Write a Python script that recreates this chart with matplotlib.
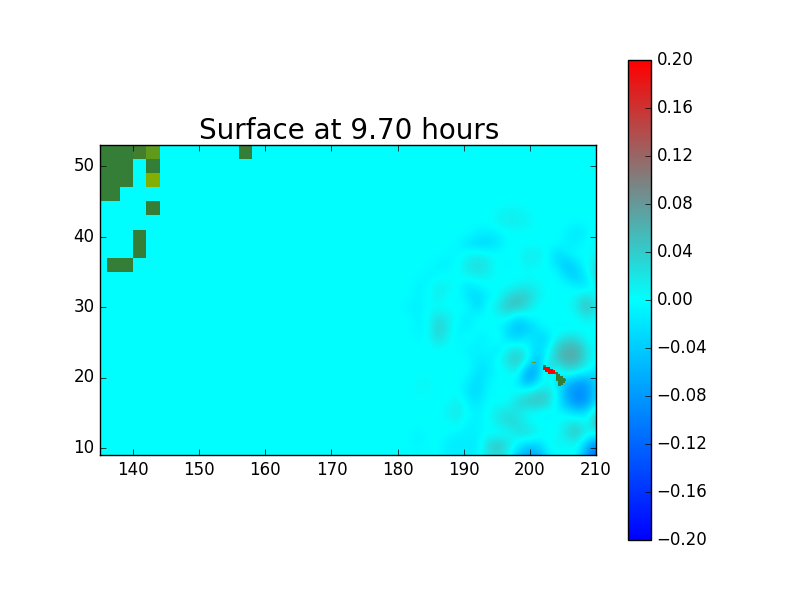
# Surface elevation plot at 9.70 hours
import matplotlib
matplotlib.use("Agg")
import matplotlib.pyplot as plt
import numpy as np
from matplotlib.colors import LinearSegmentedColormap, ListedColormap

title = "Surface at 9.70 hours"
cbar_ticks = [-0.20, -0.16, -0.12, -0.08, -0.04, 0.00, 0.04, 0.08, 0.12, 0.16, 0.20]

# surface in hundredths of a metre, lon 180..210 by 1.5, lat 45 down to 9 by 1.5
surface_cm = [
    [0, 0, 0, 0, 0, 0, 0, 0, 0, 0, 0, 0, 0, 0, 0, 0, 0, 0, 0, 0, 0],
    [0, 0, 0, 0, 0, 0, 0, 0, 0, 0, .5, 1, 1, .5, 0, 0, 0, 0, 0, 0, 0],
    [0, 0, 0, 0, 0, 0, 0, 0, 0, 0, 1, 1.5, 1.5, 1, 0, 0, 0, 0, -.5, 0, 0],
    [0, 0, 0, 0, 0, 0, 0, 0, -1, -1.5, -1, 0, 0, 0, 0, 0, 0, -1, -2, -1, 1],
    [0, 0, 0, 0, 0, 0, -.5, -2, -3, -3, -2, 0, 0, 0, 0, 0, 0, -1, -1, 0, 1],
    [0, 0, 0, 0, 0, -.5, -.5, .5, 1, .5, 0, 0, 0, 1.5, 1.5, 0, -3, -1, 0, 0, 1],
    [0, 0, 0, 0, -1, -1, 0, 2, 3, 2, 0, -.5, 0, 1, .5, 0, -2, -5, -2, 0, 3],
    [0, 0, 0, -1, -.5, 0, 0, 1, 1.5, 1, 0, 0, 0, 0, 0, 0, 0, -3, -4, -1, 4],
    [0, 0, -1, -.5, 1.5, 1, 0, -2, -1, 0, 0, 0, 1, 1.5, 1, 0, 0, 0, -1.5, -2, 1],
    [0, 0, -1, 0, 1.5, 0, 0, -2, -3, -1, 0, 3, 4.5, 4, 1.5, 0, 0, 0, 1, 3, 0],
    [0, -1, -1, 0, 0, 0, 0, 0, -3, 0, 2, 4.5, 5, 2.5, 0, 0, 0, 0, 2, 5.5, 2],
    [0, 0, -1, 0, 3, 1.5, 0, -1.5, 0, 0, 0, 1, -3, -1, 0, 0, 0, 0, 0, 2, 0],
    [0, 0, -1, 0, 4, 2, -1, -1, 0, 0, 0, -3, -5, -4, -2, 0, -.5, -.5, -.5, 0, 0],
    [0, 0, -.5, 0, 3, 1, -1, .5, -1, -1, 1, -2, -3, -1, -3, -3, 1.5, 3, 3, 0, 0],
    [0, 0, 0, 0, 0, 0, 0, -1, -1, 0, -2, 1, 3, 0, -3, -1, 4.5, 6.5, 6.5, 2, 0],
    [0, 0, 0, 0, 0, 0, 0, 0, -1.5, -1.5, 0, 3, 4.5, 1.5, -6, 1, 4.5, 6.5, 6, 2, 0],
    [0, 0, 0, 0, 0, 0, 0, 0, -2, -2, 0, 0, 2.5, -7, -6, 4, -1, 3, 2, 0, -2],
    [0, 0, .5, .5, 0, 0, 0, -1, -3, -1, 0, 0, -1, -7, -3, 1, -3, -4, -7, -7, -3],
    [0, 0, .5, .5, 0, 0, 0, -2, -3, -.5, 0, 0, 0, 1, 3, 3, 0, -7, -9, -8, -3],
    [0, 0, 0, 0, 0, 0, 1.5, -1, -2, 0, 0, 0, 3, 4.5, 5, 4, -1, -6, -9, -8, -2],
    [0, 0, 0, 0, 0, 1, 2, 0, -1, 0, 2, 2.5, 2, 0, 0, -1, 0, -1, -3, -2, 4],
    [0, 0, 0, 0, 0, 0, 1, -1, -1, 0, 1.5, 3, 3, 1, 0, 0, 0, 1.5, 3, 0, 6],
    [0, 0, -1, 0, 0, 0, -1, -1, -1, 0, -.5, 0, 2, 3, 1, 0, 0, 3, 4.5, 1, 0],
    [0, 0, -1, 0, 0, -1.5, -1.5, -1.5, -1.5, 3, 5, 3, -1, -3, -3, 0, 1, 0, 1, -5, -9],
    [0, 0, 0, 0, 0, -1, -1, -1, -1, 2, 3, 1, -4, -7, -7, -2, 0, 0, 0, -8, -12],
]

# coarse land cells, lower left corner in degrees, 2 by 2
land_lon = [134, 136, 138, 140, 142, 156, 134, 136, 138, 142, 134, 136, 138, 142, 134, 136, 142, 140, 140, 136, 138]
land_lat = [51, 51, 51, 51, 51, 51, 49, 49, 49, 49, 47, 47, 47, 47, 45, 45, 43, 39, 37, 35, 35]
land_kind = [0, 0, 0, 1, 2, 0, 0, 0, 0, 0, 0, 0, 0, 3, 0, 0, 0, 0, 0, 0, 0]
land_colors = ["#357e37", "#417f2e", "#5f9a1b", "#83b000"]

# Hawaiian cells on a 0.25 degree grid, lon from 200, lat from 22.5 downwards
hawaii_rows = [
    "......................",
    ".ooo..................",
    "......................",
    "........gg............",
    "........rrrr..........",
    "........rrrrrr........",
    ".........rrrrrr.......",
    "...........rrrrgg.....",
    "................gg....",
    "................gggg..",
    "................ggggg.",
    "................gggggg",
    ".................gggg.",
    ".................ggg..",
    ".................gg...",
]
hawaii_colors = {"g": 0, "r": 1, "o": 2}

plt.style.use("classic")
plt.rcParams["font.family"] = ["DejaVu Sans"]

surface_cmap = LinearSegmentedColormap.from_list(
    "geoclaw_surface",
    [(0.0, (0, 0, 1)), (0.5, (0, 1, 1)), (1.0, (1, 0, 0))],
)

fig = plt.figure(figsize=(8, 6), facecolor="white")
ax = fig.add_axes([100 / 800, 1 - 455 / 600, 496 / 800, 310 / 600])
ax.set_facecolor(surface_cmap(0.5))

im = ax.imshow(
    np.array(surface_cm) / 100.0,
    extent=[179.25, 210.75, 8.25, 45.75],
    origin="upper",
    aspect="auto",
    cmap=surface_cmap,
    vmin=-0.2,
    vmax=0.2,
    interpolation="bicubic",
)

# coarse land
lon_edges = np.arange(134, 160, 2)
lat_edges = np.arange(35, 54, 2)
land = np.ma.masked_all((len(lat_edges) - 1, len(lon_edges) - 1))
for lo, la, k in zip(land_lon, land_lat, land_kind):
    land[(la - 35) // 2, (lo - 134) // 2] = k
ax.pcolormesh(lon_edges, lat_edges, land, cmap=ListedColormap(land_colors), vmin=-0.5, vmax=3.5)

# islands
hi = np.ma.masked_all((len(hawaii_rows), len(hawaii_rows[0])))
for r, row in enumerate(hawaii_rows):
    for c, ch in enumerate(row):
        if ch in hawaii_colors:
            hi[r, c] = hawaii_colors[ch]
hi_lon = 200 + 0.25 * np.arange(hi.shape[1] + 1)
hi_lat = 22.5 - 0.25 * np.arange(hi.shape[0] + 1)
ax.pcolormesh(hi_lon, hi_lat, hi, cmap=ListedColormap(["#357e37", "#ff0000", "#6f9a10"]), vmin=-0.5, vmax=2.5)

ax.set_xlim(135, 210)
ax.set_ylim(9, 53)
ax.set_xticks(range(140, 211, 10))
ax.set_yticks(range(10, 51, 10))
ax.set_title(title, fontsize=20, x=0.502, pad=4)

cax = fig.add_axes([627.5 / 800, 1 - 540 / 600, 23.5 / 800, 480 / 600])
cb = fig.colorbar(im, cax=cax, ticks=cbar_ticks)
cb.ax.set_yticklabels([f"{t:.2f}".replace("-", "\u2212") for t in cbar_ticks])

fig.savefig("out.png", dpi=100, facecolor="white")
